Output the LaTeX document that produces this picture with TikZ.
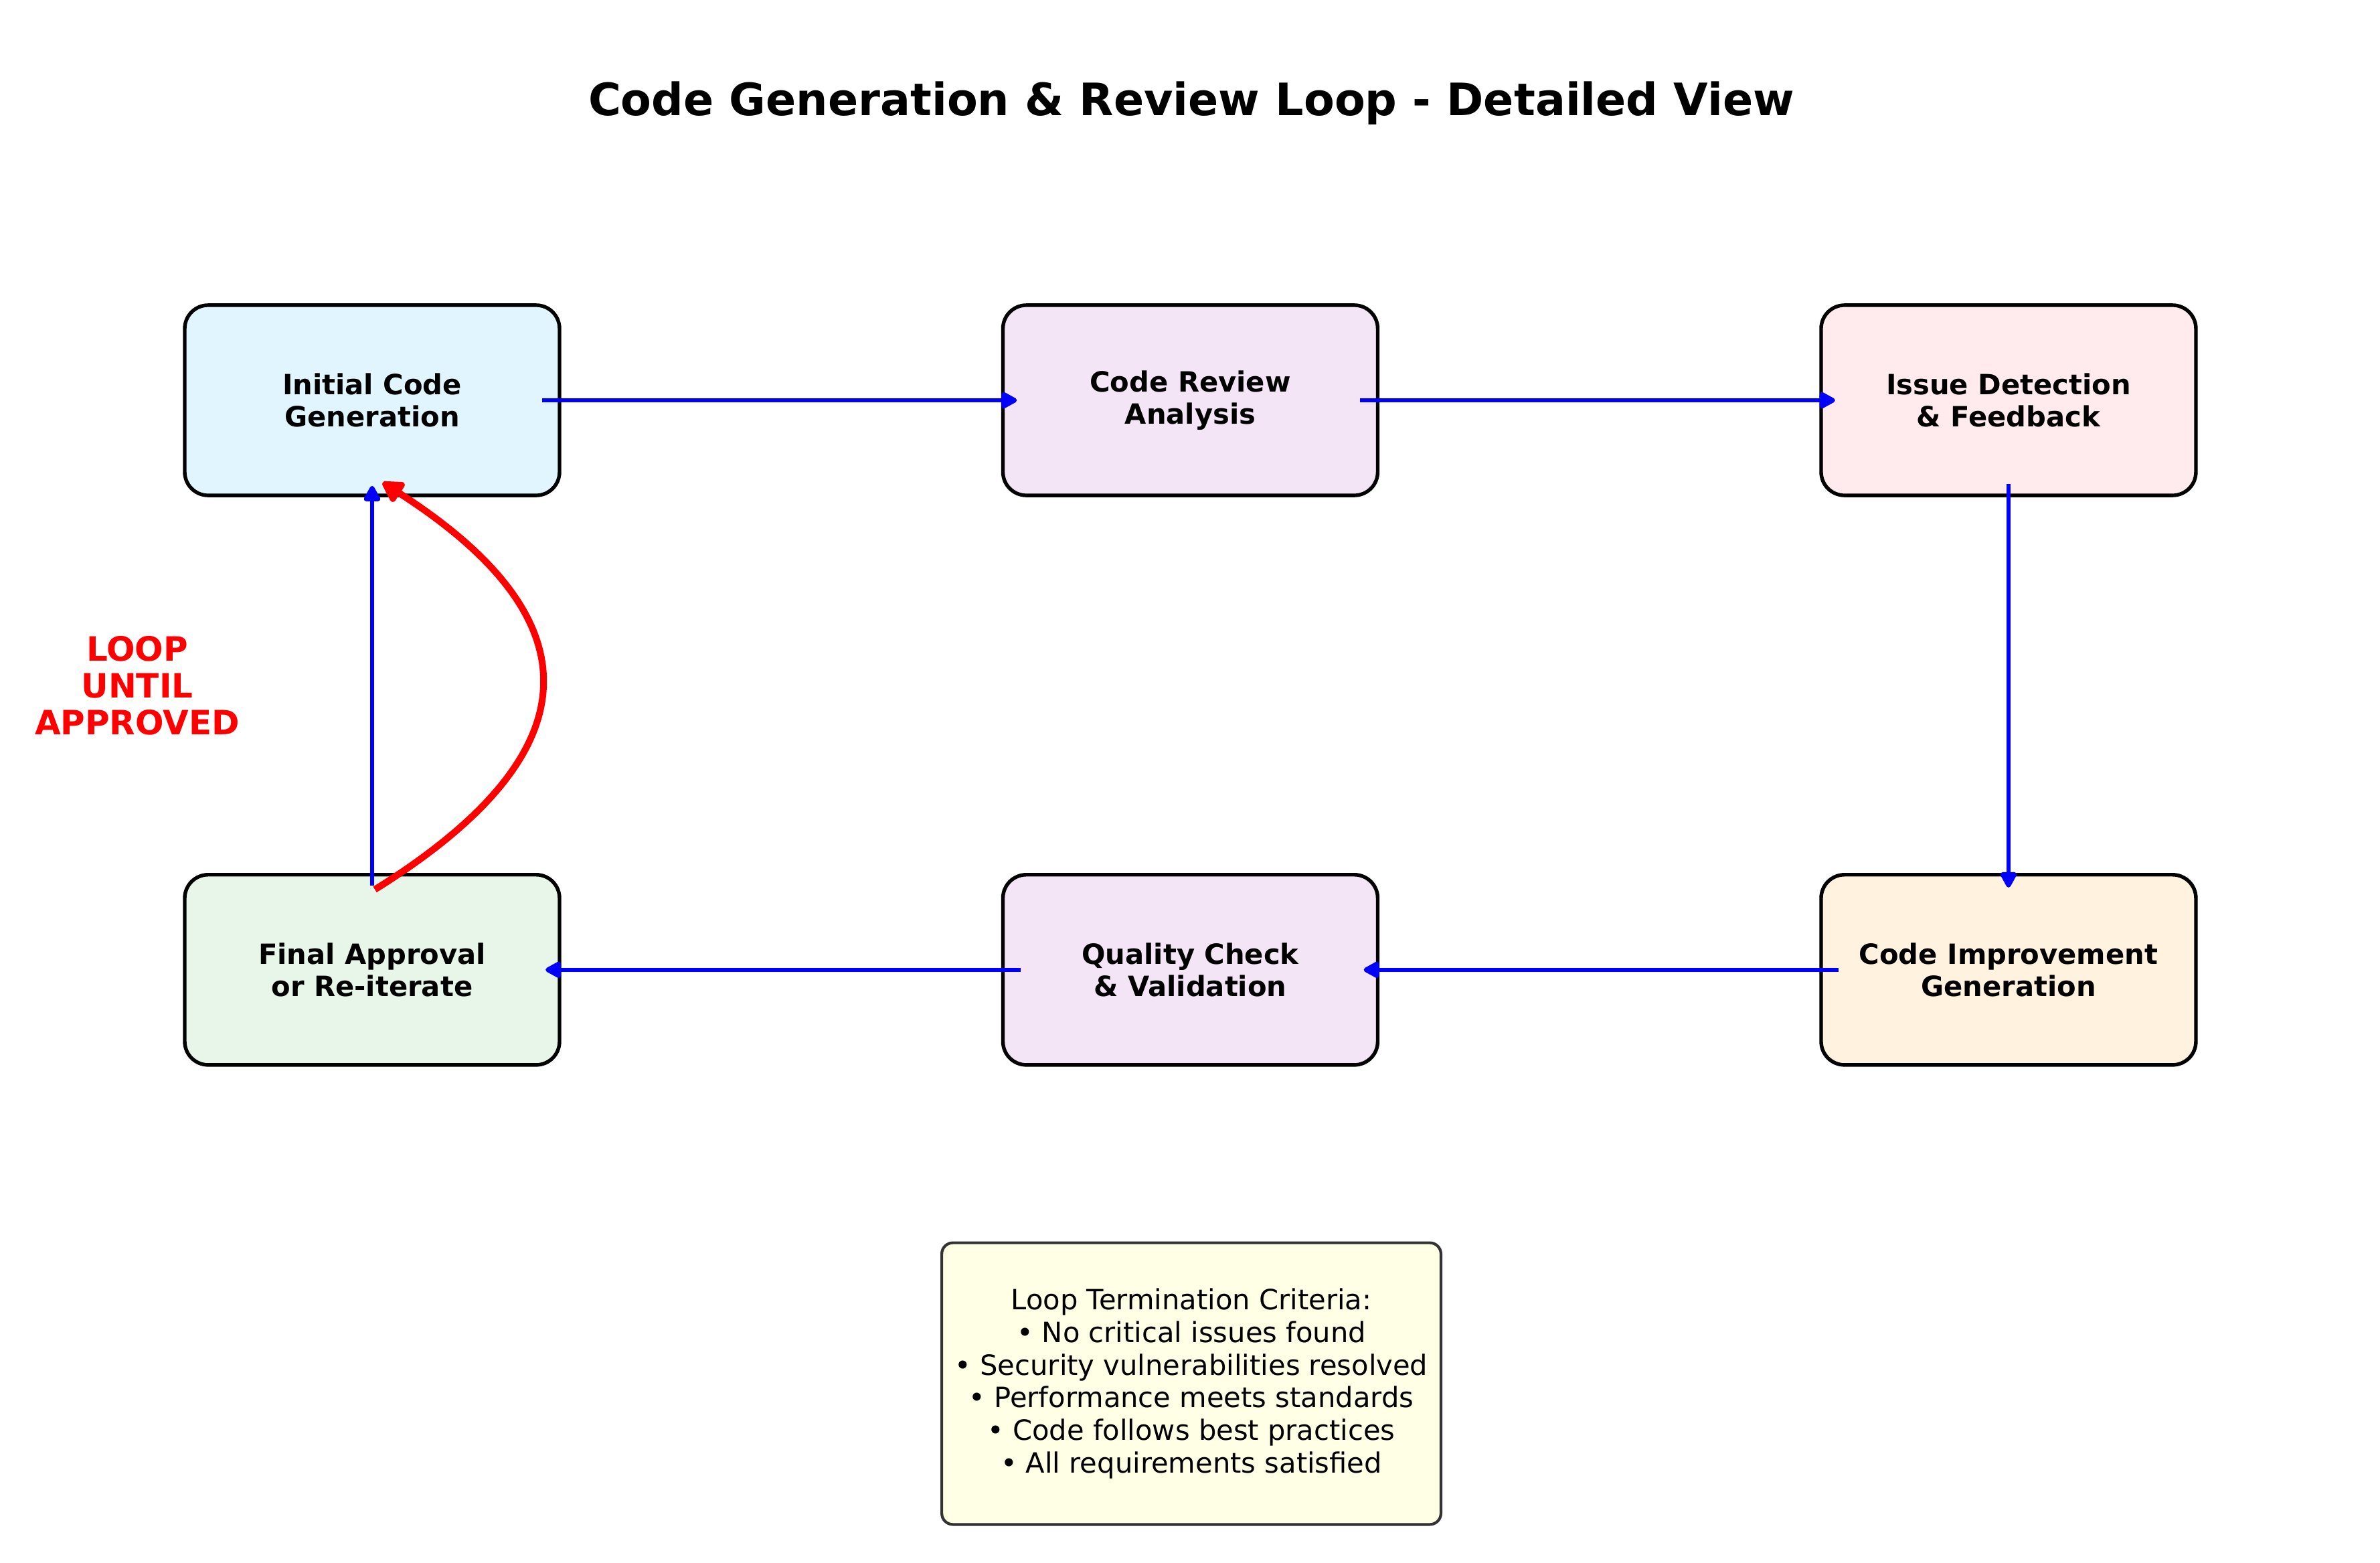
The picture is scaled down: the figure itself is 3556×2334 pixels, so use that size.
\documentclass[tikz,border=0pt]{standalone}
\usepackage{fontspec}
\setmainfont{DejaVu Sans}
\usetikzlibrary{positioning,arrows.meta}
\definecolor{initfill}{HTML}{E1F5FE}
\definecolor{reviewfill}{HTML}{F3E5F5}
\definecolor{issuefill}{HTML}{FFEBEE}
\definecolor{improvefill}{HTML}{FFF3E0}
\definecolor{finalfill}{HTML}{E8F5E9}
\definecolor{notefill}{HTML}{FFFFE6}
\definecolor{noteline}{HTML}{333333}
\begin{document}
\begin{tikzpicture}[x=0.24pt,y=-0.24pt,
    stage/.style={draw=black,line width=1.3pt,rounded corners=8.4pt,minimum width=134.4pt,minimum height=68.2pt,inner sep=0pt,outer sep=0pt,align=center,font=\fontsize{10}{11.6}\selectfont\bfseries},
    flow/.style={draw=blue,line width=1.6pt,-{Triangle[length=6.5pt,width=6.5pt,round]},shorten <=-6.3pt,shorten >=-5pt},
    loopback/.style={draw=red,line width=2.4pt,-{Triangle[length=8.5pt,width=9pt,round]}},
    note/.style={draw=noteline,fill=notefill,line width=1pt,rounded corners=4pt,minimum width=179pt,minimum height=101pt,align=center,font=\fontsize{10}{11.7}\selectfont}]
  \useasboundingbox (0,0) rectangle (3556,2334);
  \node[font=\fontsize{16}{19}\selectfont\bfseries] (title) at (1780,154) {Code Generation \& Review Loop - Detailed View};
  % top row
  \node[stage,fill=initfill] (init) at (556,598) {Initial Code\\Generation};
  \node[stage,fill=reviewfill,right=159pt of init] (review) {Code Review\\Analysis};
  \node[stage,fill=issuefill,right=159pt of review] (issues) {Issue Detection\\\& Feedback};
  % bottom row
  \node[stage,fill=improvefill,below=136pt of issues] (improve) {Code Improvement\\Generation};
  \node[stage,fill=reviewfill,left=159pt of improve] (quality) {Quality Check\\\& Validation};
  \node[stage,fill=finalfill,left=159pt of quality] (final) {Final Approval\\or Re-iterate};
  \node[text=red,align=center,font=\fontsize{12}{13.2}\selectfont\bfseries] (looplabel) at (205,1024) {LOOP\\UNTIL\\APPROVED};
  \node[note] (criteria) at (1780,2067) {Loop Termination Criteria:\\• No critical issues found\\• Security vulnerabilities resolved\\• Performance meets standards\\• Code follows best practices\\• All requirements satisfied};
  \draw[flow] (init.east) -- (review.west);
  \draw[flow] (review.east) -- (issues.west);
  \draw[flow,shorten <=-4pt,shorten >=-4.6pt] (issues.south) -- (improve.north);
  \draw[flow] (improve.west) -- (quality.east);
  \draw[flow] (quality.west) -- (final.east);
  \draw[flow,shorten <=-4pt,shorten >=-3.4pt] (final.north) -- (init.south);
  \draw[loopback] ([xshift=1pt,yshift=-5.3pt]final.north) .. controls +(328,-204) and +(320,205) .. ([xshift=3.8pt,yshift=4.6pt]init.south);
\end{tikzpicture}
\end{document}
